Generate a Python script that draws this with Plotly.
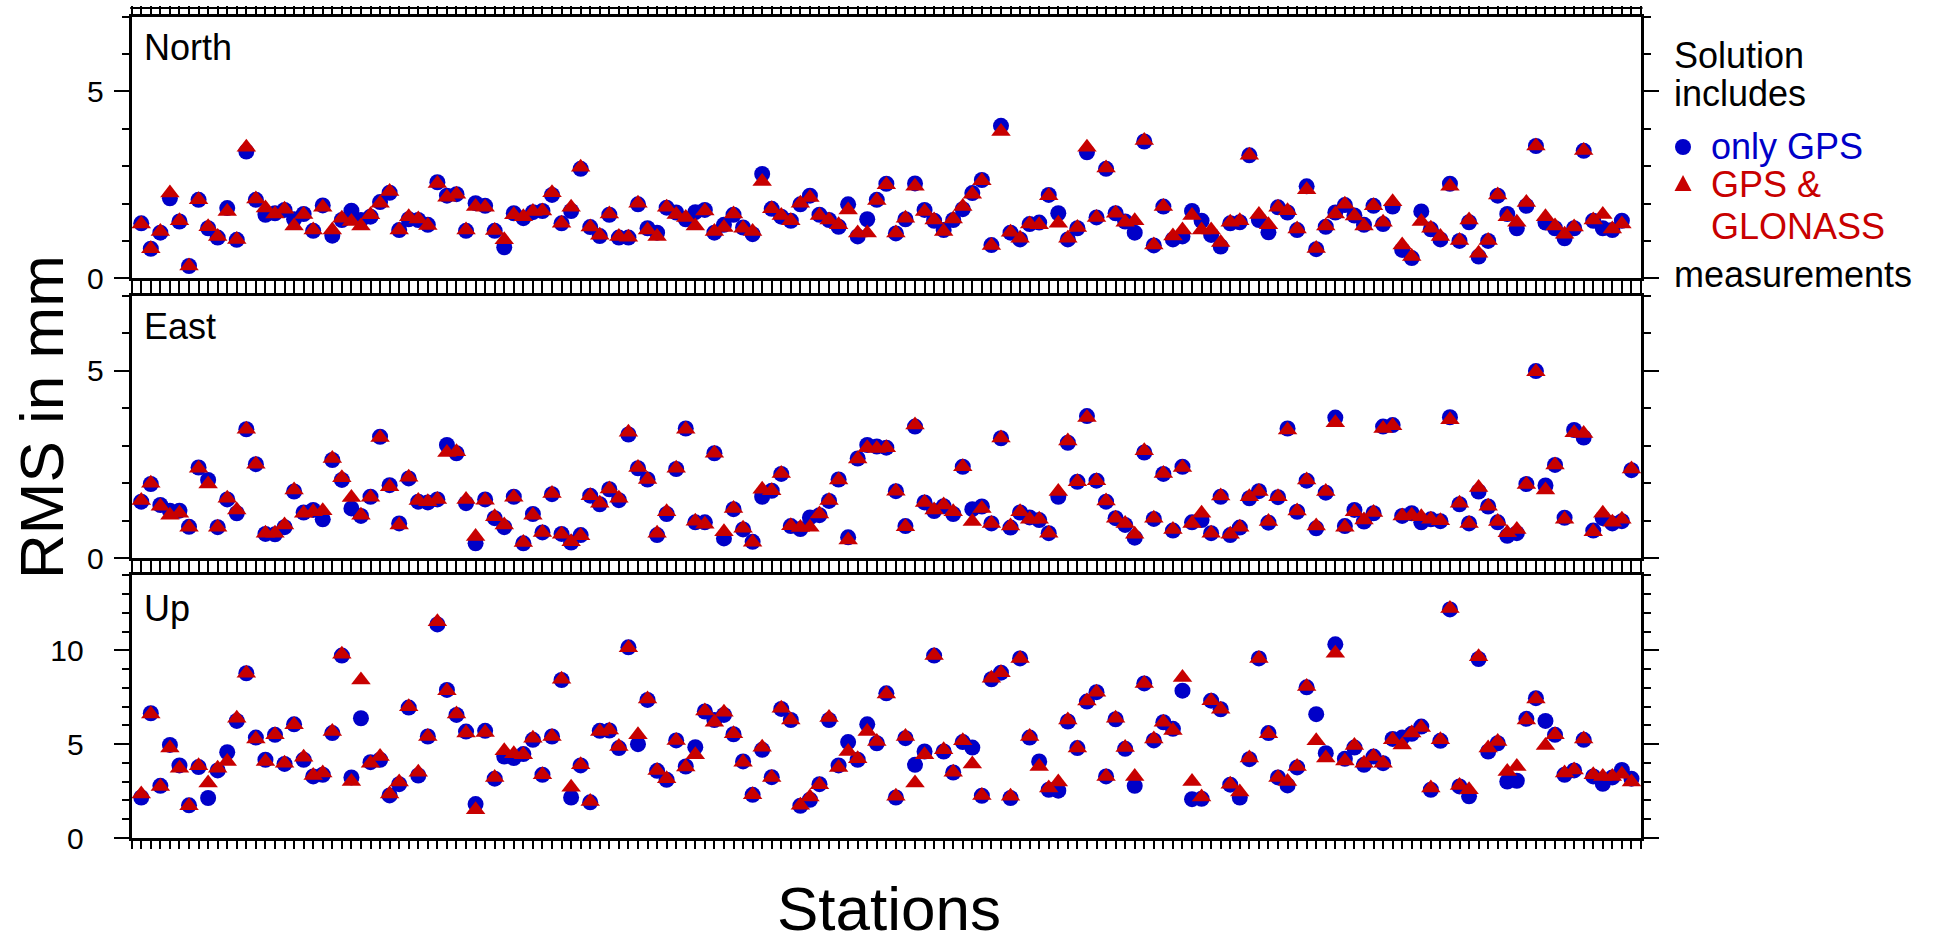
import plotly.graph_objects as go

W, H = 1938, 944

# ---------------- data ----------------
stations = list(range(1, 158))

north_gps = [1.47, 0.79, 1.22, 2.14, 1.52, 0.33, 2.10, 1.34, 1.09, 1.88,
             1.03, 3.39, 2.10, 1.70, 1.74, 1.83, 1.58, 1.72, 1.27, 1.95,
             1.14, 1.56, 1.81, 1.56, 1.65, 2.04, 2.29, 1.29, 1.58, 1.56,
             1.43, 2.57, 2.21, 2.25, 1.27, 2.01, 1.94, 1.27, 0.83, 1.74,
             1.61, 1.77, 1.80, 2.23, 1.47, 1.80, 2.93, 1.37, 1.13, 1.70,
             1.09, 1.09, 1.98, 1.34, 1.22, 1.89, 1.76, 1.58, 1.77, 1.83,
             1.22, 1.43, 1.70, 1.36, 1.18, 2.79, 1.86, 1.65, 1.54, 1.98,
             2.21, 1.70, 1.56, 1.38, 1.98, 1.12, 1.58, 2.10, 2.53, 1.20,
             1.58, 2.54, 1.83, 1.54, 1.29, 1.56, 1.85, 2.28, 2.63, 0.89,
             4.08, 1.22, 1.04, 1.45, 1.49, 2.23, 1.74, 1.04, 1.34, 3.37,
             1.63, 2.93, 1.74, 1.52, 1.22, 3.66, 0.88, 1.92, 1.04, 1.12,
             1.80, 1.54, 1.16, 0.85, 1.47, 1.50, 3.29, 1.56, 1.23, 1.90,
             1.76, 1.29, 2.46, 0.78, 1.38, 1.76, 1.96, 1.68, 1.43, 1.94,
             1.45, 1.92, 0.76, 0.54, 1.79, 1.31, 1.04, 2.53, 1.00, 1.50,
             0.58, 1.00, 2.21, 1.72, 1.34, 1.94, 3.54, 1.49, 1.34, 1.07,
             1.34, 3.41, 1.54, 1.34, 1.29, 1.54, None]

north_glo = [1.45, 0.79, 1.25, 2.28, 1.54, 0.33, 2.10, 1.38, 1.12, 1.79,
             1.04, 3.51, 2.12, 1.88, 1.72, 1.85, 1.40, 1.71, 1.29, 1.90,
             1.29, 1.61, 1.52, 1.40, 1.70, 2.01, 2.32, 1.29, 1.65, 1.59,
             1.41, 2.54, 2.17, 2.25, 1.29, 1.92, 1.90, 1.28, 1.03, 1.70,
             1.65, 1.79, 1.80, 2.29, 1.47, 1.90, 2.97, 1.37, 1.15, 1.72,
             1.12, 1.10, 2.01, 1.29, 1.12, 1.90, 1.71, 1.63, 1.40, 1.80,
             1.25, 1.36, 1.72, 1.34, 1.25, 2.59, 1.86, 1.68, 1.54, 2.01,
             2.16, 1.68, 1.56, 1.43, 1.83, 1.21, 1.21, 2.08, 2.50, 1.21,
             1.61, 2.46, 1.79, 1.56, 1.25, 1.59, 1.92, 2.25, 2.61, 0.88,
             3.93, 1.23, 1.07, 1.45, 1.43, 2.21, 1.47, 1.07, 1.36, 3.51,
             1.63, 2.95, 1.74, 1.50, 1.54, 3.69, 0.89, 1.92, 1.13, 1.29,
             1.68, 1.29, 1.29, 0.96, 1.50, 1.54, 3.29, 1.71, 1.43, 1.90,
             1.81, 1.32, 2.37, 0.80, 1.40, 1.72, 1.98, 1.67, 1.40, 1.94,
             1.50, 2.05, 0.89, 0.58, 1.52, 1.34, 1.12, 2.46, 1.01, 1.56,
             0.67, 1.01, 2.23, 1.65, 1.50, 2.03, 3.54, 1.65, 1.40, 1.18,
             1.37, 3.42, 1.56, 1.71, 1.32, 1.45, None]

east_gps = [1.51, 1.98, 1.42, 1.27, 1.27, 0.84, 2.42, 2.09, 0.83, 1.57,
            1.20, 3.44, 2.51, 0.65, 0.64, 0.83, 1.78, 1.22, 1.29, 1.04,
            2.62, 2.09, 1.33, 1.13, 1.64, 3.24, 1.95, 0.93, 2.13, 1.51,
            1.49, 1.57, 3.02, 2.80, 1.47, 0.40, 1.57, 1.07, 0.83, 1.64,
            0.40, 1.18, 0.69, 1.71, 0.65, 0.42, 0.62, 1.67, 1.44, 1.84,
            1.55, 3.30, 2.40, 2.10, 0.62, 1.18, 2.38, 3.46, 0.96, 0.96,
            2.80, 0.53, 1.31, 0.77, 0.44, 1.64, 1.80, 2.25, 0.86, 0.78,
            1.09, 1.15, 1.53, 2.10, 0.56, 2.66, 3.02, 2.98, 2.95, 1.79,
            0.86, 3.51, 1.49, 1.26, 1.39, 1.18, 2.44, 1.31, 1.38, 0.93,
            3.20, 0.82, 1.22, 1.09, 1.02, 0.67, 1.64, 3.08, 2.04, 3.79,
            2.07, 1.51, 1.07, 0.89, 0.55, 2.82, 1.05, 2.25, 0.74, 2.44,
            0.96, 1.02, 0.67, 1.64, 0.62, 0.82, 1.60, 1.79, 0.95, 1.63,
            3.46, 1.24, 2.07, 0.80, 1.75, 3.75, 0.86, 1.29, 0.98, 1.20,
            3.51, 3.55, 1.13, 1.20, 0.96, 1.04, 0.99, 3.76, 1.44, 0.93,
            1.78, 1.38, 0.96, 0.60, 0.67, 1.98, 4.99, 1.94, 2.49, 1.08,
            3.42, 3.22, 0.74, 1.07, 0.93, 0.99, 2.35]

east_glo = [1.54, 2.00, 1.39, 1.15, 1.20, 0.83, 2.40, 1.98, 0.83, 1.60,
            1.29, 3.44, 2.51, 0.67, 0.67, 0.89, 1.82, 1.20, 1.24, 1.27,
            2.66, 2.15, 1.62, 1.15, 1.63, 3.22, 1.91, 0.89, 2.16, 1.54,
            1.51, 1.57, 2.82, 2.84, 1.57, 0.58, 1.55, 1.11, 0.89, 1.63,
            0.42, 1.15, 0.69, 1.73, 0.64, 0.44, 0.60, 1.67, 1.47, 1.85,
            1.60, 3.36, 2.42, 2.10, 0.67, 1.24, 2.40, 3.44, 0.99, 0.91,
            2.80, 0.71, 1.33, 0.80, 0.43, 1.84, 1.80, 2.26, 0.87, 0.82,
            0.83, 1.18, 1.54, 2.09, 0.49, 2.65, 2.95, 2.93, 2.95, 1.79,
            0.84, 3.55, 1.49, 1.29, 1.42, 1.24, 2.44, 0.98, 1.33, 0.93,
            3.21, 0.86, 1.24, 1.04, 1.04, 0.67, 1.78, 3.13, 2.04, 3.75,
            2.07, 1.53, 1.07, 0.93, 0.64, 2.87, 1.07, 2.26, 0.77, 2.42,
            0.93, 1.20, 0.67, 1.66, 0.64, 0.83, 1.64, 1.78, 0.98, 1.64,
            3.42, 1.26, 2.09, 0.86, 1.78, 3.61, 0.83, 1.24, 1.02, 1.22,
            3.46, 3.53, 1.13, 1.15, 1.11, 1.04, 1.00, 3.69, 1.47, 0.93,
            1.89, 1.39, 0.98, 0.68, 0.77, 1.97, 4.97, 1.82, 2.49, 1.04,
            3.35, 3.33, 0.71, 1.20, 0.96, 1.04, 2.38]

up_gps = [2.16, 6.65, 2.78, 4.96, 3.87, 1.74, 3.78, 2.13, 3.60, 4.57,
          6.24, 8.78, 5.35, 4.17, 5.50, 3.95, 6.06, 4.17, 3.28, 3.37,
          5.59, 9.72, 3.23, 6.38, 4.04, 4.17, 2.27, 2.87, 6.95, 3.33,
          5.41, 11.38, 7.89, 6.56, 5.67, 1.81, 5.71, 3.16, 4.34, 4.26,
          4.47, 5.23, 3.37, 5.41, 8.42, 2.16, 3.87, 1.90, 5.71, 5.73,
          4.79, 10.16, 5.00, 7.36, 3.58, 3.10, 5.20, 3.81, 4.84, 6.74,
          6.29, 6.56, 5.53, 4.08, 2.30, 4.70, 3.24, 6.88, 6.29, 1.72,
          2.04, 2.87, 6.29, 3.87, 5.11, 4.17, 6.06, 5.05, 7.71, 2.16,
          5.32, 3.90, 4.61, 9.72, 4.61, 3.49, 5.11, 4.82, 2.25, 8.46,
          8.81, 2.13, 9.57, 5.35, 4.08, 2.57, 2.52, 6.21, 4.79, 7.27,
          7.77, 3.28, 6.33, 4.75, 2.78, 8.24, 5.20, 6.17, 5.82, 7.85,
          2.07, 2.09, 7.32, 6.86, 2.84, 2.16, 4.20, 9.57, 5.59, 3.23,
          2.80, 3.76, 8.03, 6.60, 4.52, 10.32, 4.22, 4.82, 3.90, 4.34,
          3.99, 5.28, 5.35, 5.55, 5.94, 2.57, 5.18, 12.18, 2.75, 2.22,
          9.54, 4.61, 5.05, 3.01, 3.05, 6.35, 7.45, 6.24, 5.50, 3.37,
          3.60, 5.23, 3.28, 2.89, 3.23, 3.63, 3.16]

up_glo = [2.34, 6.61, 2.75, 4.79, 3.72, 1.72, 3.85, 2.93, 3.72, 4.08,
          6.38, 8.78, 5.28, 4.08, 5.50, 3.99, 6.03, 4.31, 3.33, 3.46,
          5.67, 9.79, 3.01, 8.42, 3.99, 4.34, 2.34, 2.98, 7.00, 3.51,
          5.41, 11.52, 7.85, 6.61, 5.59, 1.51, 5.62, 3.23, 4.65, 4.49,
          4.43, 5.32, 3.37, 5.41, 8.46, 2.70, 3.90, 1.95, 5.67, 5.76,
          4.88, 10.14, 5.50, 7.41, 3.60, 3.16, 5.20, 3.78, 4.43, 6.77,
          6.17, 6.70, 5.55, 4.04, 2.30, 4.84, 3.23, 6.91, 6.29, 1.74,
          2.18, 2.84, 6.42, 3.76, 4.61, 4.22, 5.67, 5.14, 7.68, 2.22,
          5.41, 2.93, 4.43, 9.72, 4.70, 3.51, 5.18, 3.94, 2.27, 8.51,
          8.81, 2.22, 9.57, 5.41, 3.81, 2.66, 2.98, 6.29, 4.79, 7.30,
          7.77, 3.28, 6.38, 4.82, 3.28, 8.24, 5.27, 6.17, 5.73, 8.55,
          3.01, 2.18, 7.32, 6.86, 2.87, 2.45, 4.26, 9.57, 5.55, 3.23,
          3.01, 3.81, 8.07, 5.18, 4.26, 9.84, 4.11, 4.93, 3.99, 4.34,
          3.99, 5.23, 4.96, 5.59, 5.89, 2.66, 5.23, 12.23, 2.80, 2.57,
          9.66, 4.79, 5.14, 3.55, 3.81, 6.29, 7.41, 4.93, 5.50, 3.46,
          3.63, 5.28, 3.37, 3.28, 3.28, 3.40, 2.98]

panel_names = ["North", "East", "Up"]
panel_ymax = [7, 7, 14]
y_major_step = 5
legend_lines = ["Solution", "includes", "only GPS", "GPS &", "GLONASS", "measurements"]

# ---------------- style ----------------
BLUE = "#0000c8"
RED = "#c80000"
FONT = "Liberation Sans, Arial, Helvetica, sans-serif"


def fx(p):
    return p / W


def fy(p):
    return 1 - p / H


x_left, x_right = 131.7, 1641.0
panel_px = [(16.7, 278.3), (295.7, 558.3), (575.3, 838.0)]
label_standoff = [4, 4, 24]

fig = go.Figure()
series = [(north_gps, north_glo), (east_gps, east_glo), (up_gps, up_glo)]

layout = {}
for k, (g, r) in enumerate(series):
    sfx = "" if k == 0 else str(k + 1)
    fig.add_trace(go.Scatter(
        x=stations, y=g, mode="markers",
        marker=dict(symbol="circle", size=16, color=BLUE, line=dict(width=0)),
        xaxis="x" + sfx, yaxis="y" + sfx, showlegend=False, cliponaxis=False))
    fig.add_trace(go.Scatter(
        x=stations, y=r, mode="markers",
        marker=dict(symbol="triangle-up", size=17, color=RED, line=dict(width=0)),
        xaxis="x" + sfx, yaxis="y" + sfx, showlegend=False, cliponaxis=False))

    top, bot = panel_px[k]
    layout["xaxis" + sfx] = dict(
        domain=[fx(x_left), fx(x_right)], anchor="y" + sfx,
        range=[0, len(stations) + 1],
        tickmode="array", tickvals=list(range(0, len(stations) + 2)),
        showticklabels=False, ticks="outside", ticklen=8, tickwidth=2,
        tickcolor="black", showline=True, linewidth=3, linecolor="black",
        mirror="ticks", showgrid=False, zeroline=False, automargin=False)
    layout["yaxis" + sfx] = dict(
        domain=[fy(bot), fy(top)], anchor="x" + sfx,
        range=[0, panel_ymax[k]],
        tickmode="linear", tick0=0, dtick=y_major_step,
        ticks="outside", ticklen=15, tickwidth=2, tickcolor="black",
        ticklabelstandoff=label_standoff[k],
        minor=dict(tickmode="linear", tick0=0, dtick=1, ticks="outside",
                   ticklen=7, tickwidth=2, tickcolor="black"),
        tickfont=dict(family=FONT, size=30, color="black"),
        showline=True, linewidth=3, linecolor="black", mirror="ticks",
        showgrid=False, zeroline=False, automargin=False)

annotations = []
label_y = [47.5, 326.5, 608.5]
for k, name in enumerate(panel_names):
    annotations.append(dict(
        text=name, xref="paper", yref="paper", x=fx(142), y=fy(label_y[k]),
        xanchor="left", yanchor="middle", showarrow=False,
        font=dict(family=FONT, size=36, color="black")))

annotations.append(dict(
    text="RMS in mm", xref="paper", yref="paper", x=fx(41), y=fy(417),
    xanchor="center", yanchor="middle", textangle=-90, showarrow=False,
    font=dict(family=FONT, size=62, color="black")))
annotations.append(dict(
    text="Stations", xref="paper", yref="paper", x=fx(889), y=0.0,
    xanchor="center", yanchor="bottom", showarrow=False, borderpad=0,
    font=dict(family=FONT, size=62, color="black")))

leg_pos = [(1672, 56, "black"), (1672, 94, "black"), (1709, 147, BLUE),
           (1709, 184, RED), (1709, 227, RED), (1672, 274, "black")]
for txt, (lx, ly, col) in zip(legend_lines, leg_pos):
    annotations.append(dict(
        text=txt, xref="paper", yref="paper", x=fx(lx), y=fy(ly),
        xanchor="left", yanchor="middle", showarrow=False,
        font=dict(family=FONT, size=36, color=col)))

shapes = []
# legend symbols
shapes.append(dict(type="circle", xref="paper", yref="paper",
                   x0=fx(1683 - 8), x1=fx(1683 + 8), y0=fy(147 + 8), y1=fy(147 - 8),
                   fillcolor=BLUE, line=dict(width=0)))
tri = "M {} {} L {} {} L {} {} Z".format(fx(1674.5), fy(191), fx(1691.5), fy(191), fx(1683), fy(175))
shapes.append(dict(type="path", xref="paper", yref="paper", path=tri,
                   fillcolor=RED, line=dict(width=0)))
# top band line of the frame
shapes.append(dict(type="line", xref="paper", yref="paper",
                   x0=fx(x_left - 1.5), x1=fx(x_right + 1.5), y0=fy(8.0), y1=fy(8.0),
                   line=dict(color="black", width=2)))

fig.update_layout(
    width=W, height=H,
    margin=dict(l=0, r=0, t=0, b=0),
    paper_bgcolor="white", plot_bgcolor="white",
    showlegend=False,
    annotations=annotations, shapes=shapes,
    font=dict(family=FONT, color="black"),
    **layout)

fig.write_html("out.html",
               config={"displayModeBar": False},
               post_script="document.body.style.margin='0';document.body.style.overflow='hidden';")
